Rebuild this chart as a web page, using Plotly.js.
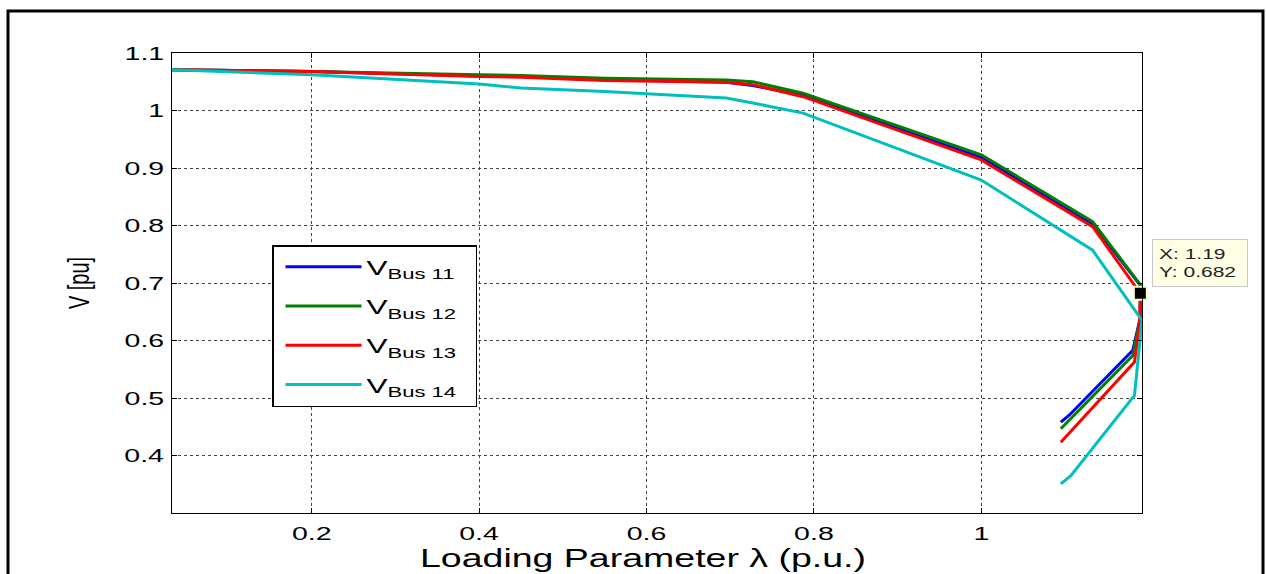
<!DOCTYPE html>
<html>
<head>
<meta charset="utf-8">
<script src="https://cdn.plot.ly/plotly-3.0.1.min.js"></script>
<style>html,body{margin:0;padding:0;background:#fff;}#chart{width:1266px;height:574px;}</style>
</head>
<body>
<div id="chart"></div>
<script>
// Loading parameter (x) and bus voltages (y)
var xBus11 = [0.033, 0.2, 0.4, 0.45, 0.55, 0.6, 0.695, 0.727, 0.787, 1.0, 1.133, 1.19, 1.19, 1.181, 1.105, 1.095];
var vBus11 = [1.071, 1.068, 1.060, 1.059, 1.054, 1.052, 1.049, 1.0435, 1.026, 0.918, 0.8025, 0.696, 0.64, 0.583, 0.470, 0.458];

var xBus12 = [0.033, 0.2, 0.4, 0.45, 0.55, 0.6, 0.695, 0.727, 0.787, 1.0, 1.133, 1.19, 1.19, 1.181, 1.095];
var vBus12 = [1.071, 1.068, 1.062, 1.061, 1.056, 1.055, 1.053, 1.050, 1.030, 0.923, 0.8065, 0.697, 0.64, 0.574, 0.4465];

var xBus13 = [0.033, 0.2, 0.4, 0.45, 0.55, 0.6, 0.695, 0.727, 0.787, 1.0, 1.133, 1.19, 1.189, 1.183, 1.105, 1.095];
var vBus13 = [1.071, 1.068, 1.059, 1.058, 1.052, 1.051, 1.049, 1.045, 1.024, 0.914, 0.798, 0.682, 0.63, 0.5625, 0.438, 0.423];

var xBus14 = [0.033, 0.2, 0.4, 0.45, 0.55, 0.6, 0.695, 0.727, 0.787, 1.0, 1.133, 1.192, 1.183, 1.107, 1.095];
var vBus14 = [1.071, 1.062, 1.046, 1.039, 1.033, 1.029, 1.0216, 1.013, 0.9955, 0.879, 0.757, 0.635, 0.5045, 0.365, 0.3506];

var seriesNames = ['V<sub>Bus 11</sub>', 'V<sub>Bus 12</sub>', 'V<sub>Bus 13</sub>', 'V<sub>Bus 14</sub>'];
var seriesColors = ['#0000ff', '#008000', '#ff0000', '#00bfbf'];

var xTicks = [0.2, 0.4, 0.6, 0.8, 1];
var yTicks = [0.4, 0.5, 0.6, 0.7, 0.8, 0.9, 1, 1.1];

var tipX = [1.19];
var tipY = [0.682];

var xs = [xBus11, xBus12, xBus13, xBus14];
var ys = [vBus11, vBus12, vBus13, vBus14];

var FONT = 'Liberation Sans, Arial, Helvetica, sans-serif';
var STRETCH = 1.5; // the reference's lettering is wide (horizontally stretched)

var traces = [];
for (var i = 0; i < 4; i++) {
  traces.push({
    x: xs[i], y: ys[i], type: 'scatter', mode: 'lines',
    name: seriesNames[i], legendgroup: 'g' + i,
    line: {color: seriesColors[i], width: 3}
  });
}
traces.push({
  x: tipX, y: tipY, type: 'scatter', mode: 'markers',
  showlegend: false, cliponaxis: false,
  marker: {symbol: 'square', size: 13, color: '#000', line: {color: '#ffffcc', width: 2}}
});

var L = 172, R = 1142, T = 53, B = 513;
var W = R - L, H = B - T;
function px(v) { return (v - L) / W; }
function py(v) { return (B - v) / H; }

var LEG_LEFT = 272, LEG_RIGHT = 477, LEG_SHIFT = 7;

var layout = {
  width: 1266, height: 574,
  margin: {l: L, r: 1266 - R, t: T, b: 574 - B, pad: 0},
  paper_bgcolor: '#fff', plot_bgcolor: '#fff',
  font: {family: FONT, color: '#000', size: 19},
  showlegend: true,
  xaxis: {
    range: [0.033, 1.192], tickvals: xTicks, ticktext: xTicks.map(String),
    showline: true, mirror: 'ticks', linecolor: '#000', linewidth: 1,
    ticks: 'inside', ticklen: 5, tickcolor: '#000',
    showgrid: true, gridcolor: '#444', griddash: 'dot', gridwidth: 1,
    zeroline: false, tickfont: {size: 19, family: FONT}, ticklabelstandoff: 3,
    title: {text: 'Loading Parameter \u03bb (p.u.)', font: {size: 25, family: FONT}, standoff: 1}
  },
  yaxis: {
    range: [0.3, 1.1], tickvals: yTicks, ticktext: yTicks.map(String),
    showline: true, mirror: 'ticks', linecolor: '#000', linewidth: 1,
    ticks: 'inside', ticklen: 5, tickcolor: '#000',
    showgrid: true, gridcolor: '#444', griddash: 'dot', gridwidth: 1,
    zeroline: false, tickfont: {size: 19, family: FONT}, ticklabelstandoff: 3,
    title: {text: 'V [pu]', font: {size: 20, family: FONT}, standoff: 46}
  },
  legend: {
    x: px(LEG_LEFT + LEG_SHIFT), y: py(245), xanchor: 'left', yanchor: 'top',
    bgcolor: '#fff', bordercolor: '#000', borderwidth: 1.5,
    font: {size: 21, family: FONT}, itemwidth: 76,
    tracegroupgap: 9
  },
  annotations: [{
    x: tipX[0], y: tipY[0], xref: 'x', yref: 'y',
    showarrow: false, xanchor: 'left', yanchor: 'bottom',
    xshift: 12, yshift: 6, width: 82,
    text: 'X: 1.19<br>Y: 0.682', align: 'left',
    font: {size: 14, family: FONT, color: '#222'},
    bgcolor: '#ffffe6', bordercolor: '#c8c8c8', borderwidth: 1, borderpad: 6
  }],
  shapes: [{
    type: 'rect', xref: 'paper', yref: 'paper',
    x0: px(8), x1: px(1263), y0: py(590), y1: py(11),
    line: {color: '#000', width: 3}, fillcolor: 'rgba(0,0,0,0)', layer: 'above'
  }]
};

function stretchTexts(gd, s) {
  var texts = gd.querySelectorAll('svg text');
  texts.forEach(function (el) {
    var r = el.getBoundingClientRect();
    if (!r || r.width === 0) return;
    var anchor = el.getAttribute('text-anchor') || 'start';
    if (el.classList.contains('annotation-text')) anchor = 'start';
    if (el.classList.contains('ytitle')) anchor = 'middle';
    var sx = anchor === 'end' ? r.right : (anchor === 'middle' ? (r.left + r.right) / 2 : r.left);
    var pm = el.parentNode.getScreenCTM();
    var p = (sx - pm.e) / pm.a;
    var shift = el.classList.contains('xtitle') ? -14 : 0;
    var old = el.getAttribute('transform') || '';
    el.setAttribute('transform',
      'translate(' + (p + shift) + ',0) scale(' + s + ',1) translate(' + (-p) + ',0) ' + old);
  });
  // widen the legend frame to hold the wide lettering
  var leg = gd.querySelector('.legend');
  if (leg) {
    var sb = leg.querySelector('.scrollbox');
    if (sb) sb.removeAttribute('clip-path');
    var bg = leg.querySelector('rect.bg');
    if (bg) {
      var bw = 1.5;
      bg.setAttribute('x', bw / 2 - LEG_SHIFT);
      bg.setAttribute('width', (LEG_RIGHT - LEG_LEFT) - bw);
    }
  }
}

Plotly.newPlot('chart', traces, layout, {displayModeBar: false, staticPlot: true})
  .then(function (gd) { stretchTexts(gd, STRETCH); });
</script>
</body>
</html>
